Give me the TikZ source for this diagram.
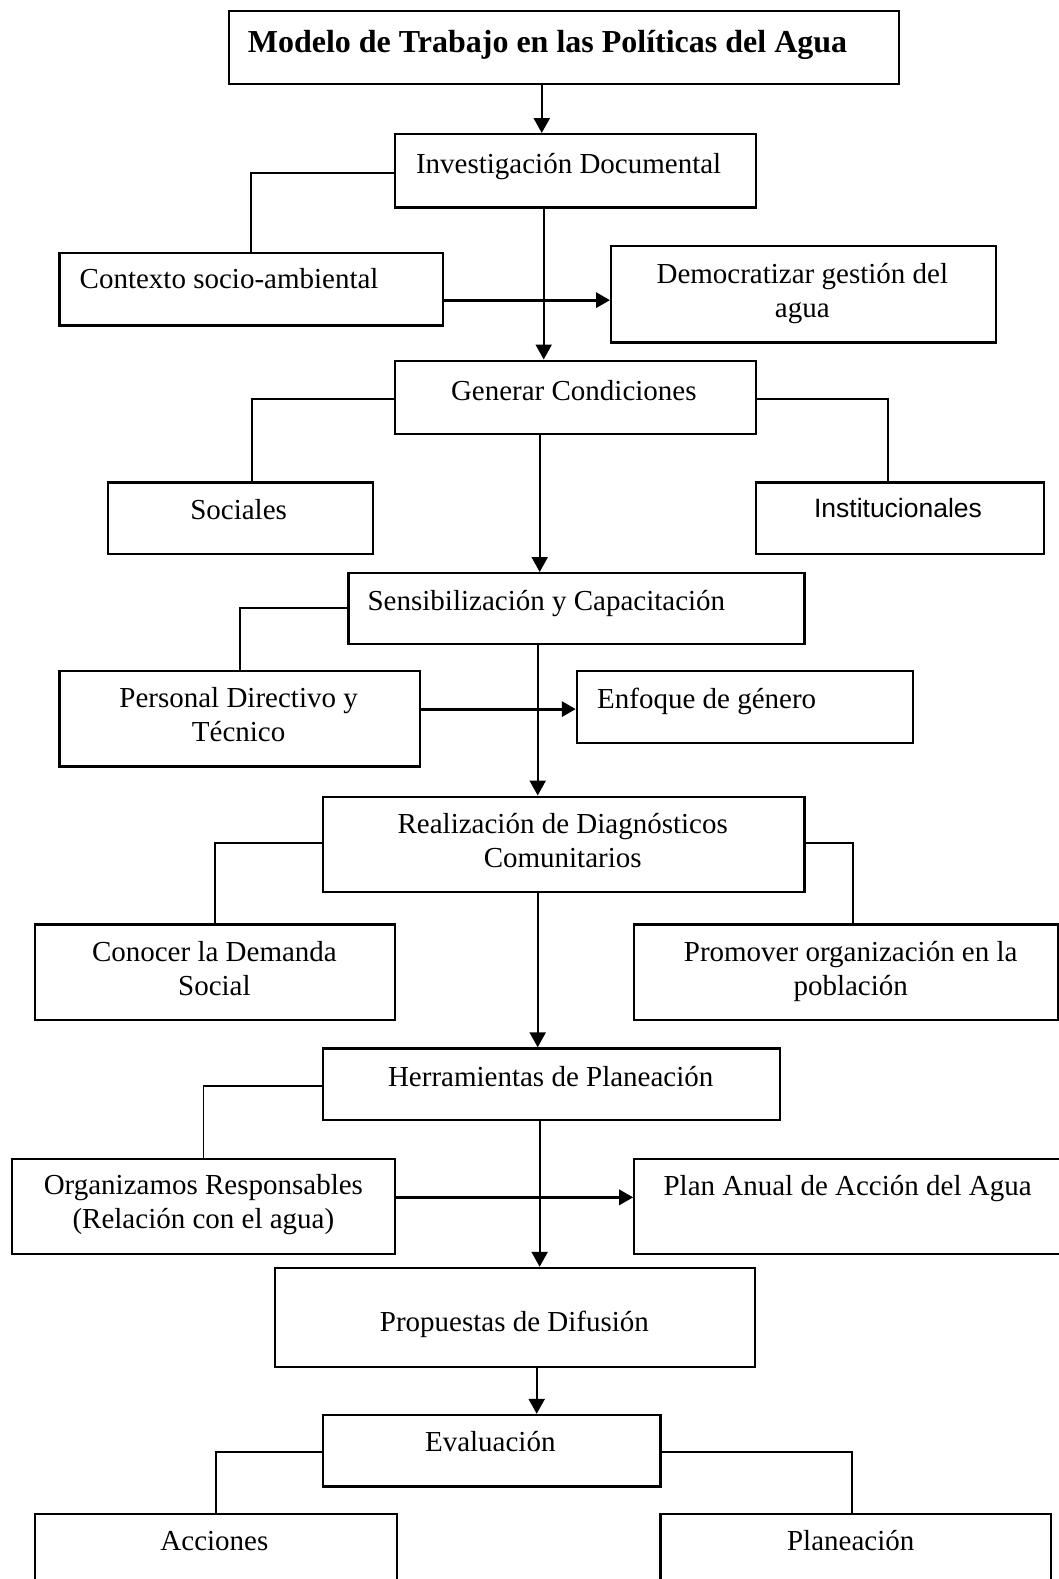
\documentclass[tikz,border=0pt]{standalone}
\usepackage{fontspec}
\setmainfont{Liberation Serif}
\newfontfamily\arialfont{Liberation Sans}
\usetikzlibrary{arrows.meta}

\begin{document}
\begin{tikzpicture}[x=1pt,y=-1pt,
  box/.style={draw,line width=2.2pt,rectangle,anchor=north west,inner sep=0pt},
  txt/.style={inner sep=0pt,font=\fontsize{29}{34.2}\selectfont,align=center},
  ttl/.style={inner sep=0pt,font=\fontsize{32}{38}\selectfont\bfseries},
  link/.style={line width=1.9pt},
  arr/.style={line width=2.3pt,-{Triangle[length=15pt,width=16pt]}},
  harr/.style={line width=3.2pt,-{Triangle[length=14pt,width=15pt]}},
]
\useasboundingbox (0,0) rectangle (1058,1579);

% boxes
\node[box,minimum width=670.5pt,minimum height=72.6pt] (title) at (227.5,10) {};
\node[box,minimum width=361.4pt,minimum height=73.4pt] (inv) at (393.6,133) {};
\node[box,minimum width=383.6pt,minimum height=72.5pt] (ctx) at (58.4,251.8) {};
\node[box,minimum width=384.6pt,minimum height=96.7pt] (dem) at (610,244.7) {};
\node[box,minimum width=361.4pt,minimum height=73.5pt] (gen) at (393.6,359.5) {};
\node[box,minimum width=264.8pt,minimum height=71.5pt] (soc) at (106.7,481.3) {};
\node[box,minimum width=288pt,minimum height=71.5pt] (ins) at (755,481.3) {};
\node[box,minimum width=456pt,minimum height=70.5pt] (sen) at (347.3,572) {};
\node[box,minimum width=360.4pt,minimum height=95.6pt] (per) at (58.4,669.7) {};
\node[box,minimum width=336.2pt,minimum height=72.5pt] (enf) at (575.8,669.7) {};
\node[box,minimum width=481.2pt,minimum height=95.7pt] (rea) at (322.1,795.5) {};
\node[box,minimum width=359.4pt,minimum height=95.6pt] (con) at (34.2,923.4) {};
\node[box,minimum width=423.8pt,minimum height=95.6pt] (pro) at (633.2,923.4) {};
\node[box,minimum width=457.1pt,minimum height=71.5pt] (her) at (322.1,1047.3) {};
\node[box,minimum width=382.5pt,minimum height=94.7pt] (org) at (11.1,1158) {};
\node[box,minimum width=440pt,minimum height=94.7pt] (pla) at (633.2,1158) {};
\node[box,minimum width=480.2pt,minimum height=98.7pt] (prp) at (273.8,1266.8) {};
\node[box,minimum width=337.3pt,minimum height=71.5pt] (eva) at (322.1,1413.8) {};
\node[box,minimum width=361.4pt,minimum height=90pt] (acc) at (34.2,1512.5) {};
\node[box,minimum width=390.6pt,minimum height=90pt] (plc) at (659.4,1512.5) {};

% texts (base anchor of a two-line node sits on its last line)
\node[ttl,anchor=base west] (titleT) at (247.6,52.5) {Modelo de Trabajo en las Políticas del Agua};
\node[txt,anchor=base west] (invT) at (415.8,173.6) {Investigación Documental};
\node[txt,anchor=base west] (ctxT) at (79.5,288.5) {Contexto socio-ambiental};
\node[txt,anchor=base] (demT) at (802.3,317.6) {Democratizar gestión del\\agua};
\node[txt,anchor=base] (genT) at (573.8,400.2) {Generar Condiciones};
\node[txt,anchor=base] (socT) at (238.6,519) {Sociales};
\node[txt,anchor=base,font=\arialfont\fontsize{26.5}{32}\selectfont] (insT) at (898,517.8) {Institucionales};
\node[txt,anchor=base west] (senT) at (367.4,610.7) {Sensibilización y Capacitación};
\node[txt,anchor=base] (perT) at (238.6,741.6) {Personal Directivo y\\Técnico};
\node[txt,anchor=base west] (enfT) at (597,708.4) {Enfoque de género};
\node[txt,anchor=base] (reaT) at (562.7,867.4) {Realización de Diagnósticos\\Comunitarios};
\node[txt,anchor=base] (conT) at (214.4,995.3) {Conocer la Demanda\\Social};
\node[txt,anchor=base] (proT) at (850.7,995.3) {Promover organización en la\\población};
\node[txt,anchor=base] (herT) at (550.7,1086) {Herramientas de Planeación};
\node[txt,anchor=base] (orgT) at (203.4,1228.9) {Organizamos Responsables\\(Relación con el agua)};
\node[txt,anchor=base west] (plaT) at (663.4,1195.7) {Plan Anual de Acción del Agua};
\node[txt,anchor=base] (prpT) at (514.4,1331.7) {Propuestas de Difusión};
\node[txt,anchor=base] (evaT) at (490.3,1451.5) {Evaluación};
\node[txt,anchor=base] (accT) at (214.4,1550.2) {Acciones};
\node[txt,anchor=base] (plcT) at (850.7,1550.2) {Planeación};

% main flow
\draw[arr] ([xshift=-22.1pt]title.south) -- ([xshift=-22.1pt]title.south |- inv.north);
\draw[arr] ([xshift=-31.7pt]inv.south) -- ([xshift=-31.7pt]inv.south |- gen.north);
\draw[arr] ([xshift=-35.7pt]gen.south) -- ([xshift=-35.7pt]gen.south |- sen.north);
\draw[arr] ([xshift=-38.7pt]sen.south) -- ([xshift=-38.7pt]sen.south |- rea.north);
\draw[arr] ([xshift=-26.1pt]rea.south) -- ([xshift=-26.1pt]rea.south |- her.north);
\draw[arr] ([xshift=-12.1pt]her.south) -- ([xshift=-12.1pt]her.south |- prp.north);
\draw[arr] ([xshift=21.7pt]prp.south) -- ([xshift=21.7pt]prp.south |- eva.north);

% side branches
\draw[link] ([yshift=-2.5pt]inv.west) -| (ctx.north);
\draw[link] ([yshift=-1.5pt]gen.west) -| ([xshift=11.6pt]soc.north);
\draw[link] ([yshift=-1.5pt]gen.east) -| ([xshift=-12pt]ins.north);
\draw[link] (sen.west) -| (per.north);
\draw[link] ([yshift=1.5pt]rea.west) -| (con.north);
\draw[link] ([yshift=1.5pt]rea.east) -| ([xshift=6.6pt]pro.north);
\draw[link] ([yshift=-1.5pt]her.west) -| (org.north);
\draw[link] ([yshift=-1.5pt]eva.west) -| (acc.north);
\draw[link] ([yshift=-1.5pt]eva.east) -| ([xshift=-4pt]plc.north);

% horizontal links
\draw[harr] ([yshift=-11pt]ctx.east) -- ([yshift=-11pt]ctx.east -| dem.west);
\draw[harr] ([yshift=9.5pt]per.east) -- ([yshift=9.5pt]per.east -| enf.west);
\draw[harr] ([yshift=9.1pt]org.east) -- ([yshift=9.1pt]org.east -| pla.west);
\end{tikzpicture}
\end{document}
